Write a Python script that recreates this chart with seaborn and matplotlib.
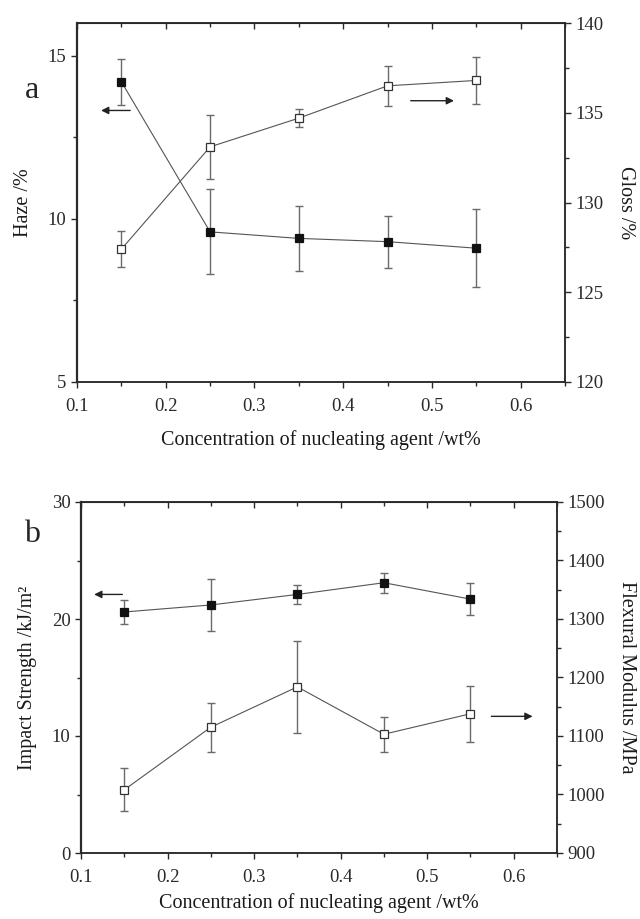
import pandas as pd
import matplotlib
matplotlib.use("Agg")
import matplotlib.pyplot as plt
from matplotlib.ticker import MultipleLocator
import seaborn as sns

# nucleating agent concentration /wt%
conc = [0.15, 0.25, 0.35, 0.45, 0.55]

# panel a
haze = [14.2, 9.6, 9.4, 9.3, 9.1]
haze_err = [0.7, 1.3, 1.0, 0.8, 1.2]
gloss = [127.4, 133.1, 134.7, 136.5, 136.8]
gloss_err = [1.0, 1.8, 0.5, 1.1, 1.3]

# panel b
impact = [20.6, 21.2, 22.1, 23.1, 21.7]
impact_err = [1.0, 2.2, 0.8, 0.85, 1.35]
modulus = [1008, 1115, 1184, 1103, 1138]
modulus_err = [37, 42, 79, 30, 48]

# arrows pointing to the axis each series belongs to (x_tail, x_head, y)
arrows_a = [(0.163, 0.124, 13.32, "left"), (0.473, 0.528, 135.67, "right")]
arrows_b = [(0.151, 0.112, 22.1, "left"), (0.571, 0.625, 1133.6, "right")]

sns.set_style("ticks")
plt.rcParams['font.family'] = ['Liberation Serif', 'DejaVu Serif']

LINE = "#555555"
ERR = "#6a6a6a"
SPINE = "#2a2a2a"
TICK_FS = 13.5
LABEL_FS = 14.5


def draw_series(ax, y, err, filled):
    df = pd.DataFrame({"conc": conc, "val": y})
    ax.errorbar(conc, y, yerr=err, fmt="none", ecolor=ERR, elinewidth=1.0,
                capsize=2.6, capthick=1.0, zorder=2)
    sns.lineplot(data=df, x="conc", y="val", ax=ax, color=LINE, linewidth=0.8,
                 marker="s", markersize=6 if filled else 5.2,
                 markerfacecolor="#111111" if filled else "white",
                 markeredgecolor="#111111" if filled else "#333333",
                 markeredgewidth=0.9, zorder=3)


def style_panel(ax, ax2, ylim, ystep, y2lim, y2step, ylabel, y2label, xpad):
    ax.set_xlim(0.1, 0.65)
    ax.xaxis.set_major_locator(MultipleLocator(0.1))
    ax.xaxis.set_minor_locator(MultipleLocator(0.05))
    ax.xaxis.set_major_formatter(plt.FuncFormatter(lambda v, p: f"{v:.1f}"))
    ax.set_ylim(*ylim)
    ax.yaxis.set_major_locator(MultipleLocator(ystep))
    ax.yaxis.set_minor_locator(MultipleLocator(ystep / 2))
    ax2.set_ylim(*y2lim)
    ax2.yaxis.set_major_locator(MultipleLocator(y2step))
    ax2.yaxis.set_minor_locator(MultipleLocator(y2step / 2))

    ax.tick_params(axis="x", which="both", direction="out", top=False,
                   labelsize=TICK_FS, colors=SPINE, pad=7)
    ax.tick_params(axis="y", which="both", direction="out", right=False,
                   labelsize=TICK_FS, colors=SPINE, pad=3)
    ax2.tick_params(axis="y", which="both", direction="out", left=False,
                    labelsize=TICK_FS, colors=SPINE, pad=3)
    for a in (ax, ax2):
        a.tick_params(which="major", length=4.5, width=1.0)
        a.tick_params(which="minor", length=3, width=1.0)
        for s in a.spines.values():
            s.set_color(SPINE)
            s.set_linewidth(1.1)
            s.set_visible(True)
    ax.spines["left"].set_linewidth(1.6)

    top = ax.secondary_xaxis("top")
    top.xaxis.set_major_locator(MultipleLocator(0.1))
    top.xaxis.set_minor_locator(MultipleLocator(0.05))
    top.tick_params(which="both", direction="in", labeltop=False, colors=SPINE)
    top.tick_params(which="major", length=4.5, width=1.0)
    top.tick_params(which="minor", length=3, width=1.0)

    ax.set_xlabel("Concentration of nucleating agent /wt%", fontsize=LABEL_FS,
                  labelpad=xpad, color="#1a1a1a")
    ax.set_ylabel(ylabel, fontsize=LABEL_FS, labelpad=11, color="#1a1a1a")
    ax2.set_ylabel(y2label, fontsize=LABEL_FS, rotation=270, va="bottom",
                   labelpad=9, color="#1a1a1a")


def draw_arrows(ax, ax2, arrows):
    for x0, x1, y, side in arrows:
        target = ax if side == "left" else ax2
        target.annotate("", xy=(x1, y), xytext=(x0, y),
                        arrowprops=dict(arrowstyle="-|>", color="#222222",
                                        lw=1.0, mutation_scale=11))


fig = plt.figure(figsize=(6.4, 9.19), dpi=100)
ax_a = fig.add_axes([77 / 640, 1 - 382 / 919, 488 / 640, 359 / 919])
ax_a2 = ax_a.twinx()
ax_b = fig.add_axes([81 / 640, 1 - 853 / 919, 476 / 640, 351 / 919])
ax_b2 = ax_b.twinx()

# panel a
draw_series(ax_a, haze, haze_err, filled=True)
draw_series(ax_a2, gloss, gloss_err, filled=False)
style_panel(ax_a, ax_a2, (5, 16), 5, (120, 140), 5, "Haze /%", "Gloss /%", 11)
draw_arrows(ax_a, ax_a2, arrows_a)

# panel b
draw_series(ax_b, impact, impact_err, filled=True)
draw_series(ax_b2, modulus, modulus_err, filled=False)
style_panel(ax_b, ax_b2, (0, 30), 10, (900, 1500), 100,
            "Impact Strength /kJ/m²", "Flexural Modulus /MPa", 5)
draw_arrows(ax_b, ax_b2, arrows_b)

fig.text(32 / 640, 1 - 90 / 919, "a", fontsize=23, ha="center", va="center")
fig.text(32 / 640, 1 - 535 / 919, "b", fontsize=23, ha="center", va="center")

fig.savefig("out.png", dpi=100)
